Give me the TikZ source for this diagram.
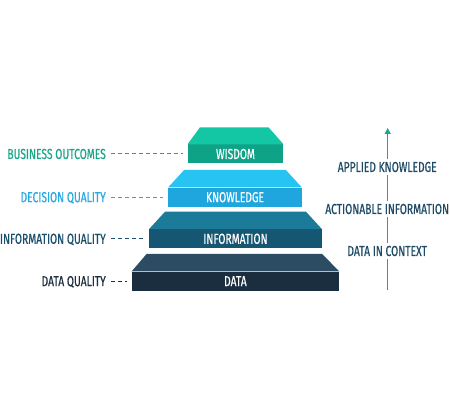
\documentclass[tikz,border=0pt]{standalone}
\usepackage{fontspec}
\setmainfont[FakeStretch=0.71,FakeBold=0.5]{Fira Sans}
\usetikzlibrary{arrows.meta}
\definecolor{wisT}{HTML}{14C7A4}
\definecolor{wisF}{HTML}{0EA287}
\definecolor{knoT}{HTML}{27C3F2}
\definecolor{knoF}{HTML}{20A6DF}
\definecolor{infT}{HTML}{1B7B99}
\definecolor{infF}{HTML}{155673}
\definecolor{datT}{HTML}{2B4C63}
\definecolor{datF}{HTML}{1B2E3F}
\definecolor{tealtxt}{HTML}{1AA58A}
\definecolor{bluetxt}{HTML}{2AA8E0}
\definecolor{infotxt}{HTML}{1A4E6A}
\definecolor{datatxt}{HTML}{1D2F3F}
\definecolor{righttxt}{HTML}{1E4A66}
\definecolor{arrowc}{HTML}{1AA88A}
\begin{document}
\begin{tikzpicture}[x=1pt,y=-1pt,
  font=\fontsize{14.5}{16}\selectfont,
  face/.style={minimum height=19pt, inner sep=0pt, text=white, text height=10pt, text depth=0pt},
  leftlab/.style={anchor=east, inner sep=0pt, text height=10pt, text depth=0pt},
  rightlab/.style={fill=white, inner sep=3pt, text=righttxt, text height=10pt, text depth=0pt},
  dashline/.style={line width=1pt, dash pattern=on 4pt off 3pt}
]
\useasboundingbox (0,0) rectangle (450,419);

% pyramid faces
\node[face, fill=wisF, minimum width=95.6pt] (wis) at (235.5,154) {WISDOM};
\node[face, fill=knoF, minimum width=133.4pt] (kno) at (235,197.2) {KNOWLEDGE};
\node[face, fill=infF, minimum width=172.4pt] (inf) at (235.5,238.8) {INFORMATION};
\node[face, fill=datF, minimum width=207.3pt] (dat) at (235.4,281.2) {DATA};

% top trapezoids
\fill[wisT] (wis.north west) -- ([xshift=12.5pt,yshift=17pt]wis.north west) -- ([xshift=-15pt,yshift=17pt]wis.north east) -- (wis.north east) -- cycle;
\fill[knoT] (kno.north west) -- ([xshift=16pt,yshift=17.5pt]kno.north west) -- ([xshift=-16pt,yshift=17.5pt]kno.north east) -- (kno.north east) -- cycle;
\fill[infT] (inf.north west) -- ([xshift=16pt,yshift=17.5pt]inf.north west) -- ([xshift=-16pt,yshift=17.5pt]inf.north east) -- (inf.north east) -- cycle;
\fill[datT] (dat.north west) -- ([xshift=15pt,yshift=17.5pt]dat.north west) -- ([xshift=-17pt,yshift=17.5pt]dat.north east) -- (dat.north east) -- cycle;

% left labels
\node[leftlab, text=tealtxt] (bo) at (106,154) {BUSINESS OUTCOMES};
\node[leftlab, text=bluetxt] (dq) at (106,197.2) {DECISION QUALITY};
\node[leftlab, text=infotxt] (iq) at (106,238.8) {INFORMATION QUALITY};
\node[leftlab, text=datatxt] (daq) at (106,281.2) {DATA QUALITY};

\draw[dashline, tealtxt] ([xshift=5pt]bo.east) -- ([xshift=-4.5pt]wis.west);
\draw[dashline, bluetxt] ([xshift=5pt]dq.east) -- ([xshift=-5pt]kno.west);
\draw[dashline, infotxt] ([xshift=5pt]iq.east) -- ([xshift=-4pt]inf.west);
\draw[dashline, datatxt] ([xshift=5pt]daq.east) -- ([xshift=-4.5pt]dat.west);

% right arrow
\coordinate (abot) at (387.7,290);
\coordinate (atop) at (387.7,128);
\draw[arrowc, line width=1.4pt, -{Triangle[length=6pt,width=6pt]}] (abot) -- (atop);

\node[rightlab] (ak) at (387.2,167) {APPLIED KNOWLEDGE};
\node[rightlab] (ai) at (387.2,209) {ACTIONABLE INFORMATION};
\node[rightlab] (dc) at (387.2,251) {DATA IN CONTEXT};
\end{tikzpicture}
\end{document}
